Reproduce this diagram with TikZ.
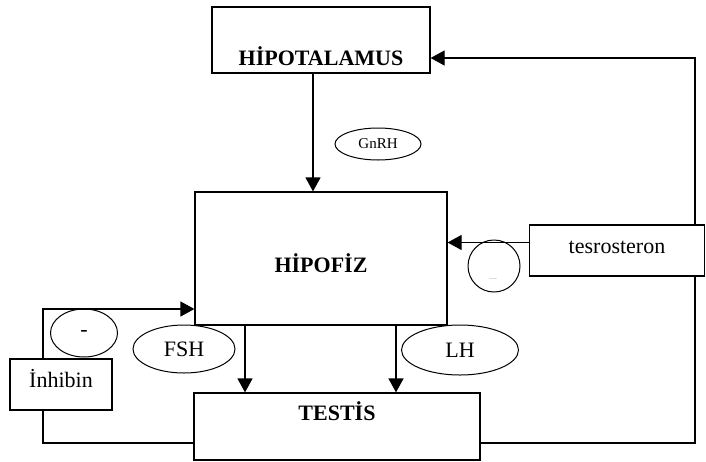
\documentclass[tikz,border=0pt]{standalone}
\usepackage{fontspec}
\setmainfont{Liberation Serif}
\usepackage{tikz}
\usetikzlibrary{shapes.geometric, arrows.meta, positioning, calc}

\begin{document}
\begin{tikzpicture}[x=1pt, y=-1pt,
  box/.style={rectangle, draw=black, line width=1.2pt, fill=white, inner sep=0pt, anchor=base, font=\fontsize{22}{26}\selectfont},
  hbox/.style={box, font=\fontsize{22}{26}\selectfont\bfseries},
  oval/.style={ellipse, draw=black, line width=1pt, fill=white, inner sep=0pt, font=\fontsize{22}{26}\selectfont},
  arr/.style={-{Triangle[length=14pt, width=15pt]}, line width=1.2pt, black},
  ln/.style={line width=1.2pt, black}
]
\useasboundingbox (0,0) rectangle (706,461);

% Main boxes
\node[hbox, minimum width=218pt, text height=58pt, text depth=8pt] (hipo) at (321,65) {HİPOTALAMUS};
\node[hbox, minimum width=252pt, text height=80pt, text depth=53pt] (hipofiz) at (321,272) {HİPOFİZ};
\node[hbox, minimum width=286pt, text height=27pt, text depth=40pt] (testis) at (337,420) {TESTİS};
\node[box, minimum width=102pt, text height=28pt, text depth=23pt] (inh) at (61,387) {İnhibin};

% Hormone labels
\node[oval, minimum width=86pt, minimum height=32pt, font=\fontsize{15}{18}\selectfont] (gnrh) at (378,144) {GnRH};
\node[oval, minimum width=102pt, minimum height=48pt] (fsh) at (184,349) {FSH};
\node[oval, minimum width=117pt, minimum height=50pt] (lh) at (460,350) {LH};
\node[oval, minimum width=67pt, minimum height=48pt] (minus) at (84,333) {-};
\node[circle, draw=black, line width=1pt, minimum size=52pt, inner sep=0pt] (neg) at (494,266) {};
\node[text=gray!35, font=\fontsize{15}{18}\selectfont, inner sep=0pt] (negdash) at (493,278) {\_};

% Feedback to hipotalamus
\coordinate (fb) at (695,443);
\coordinate (fbtop) at (695,58);
\draw[arr] (testis.east |- fb) -- (fb) -- (fbtop) -- (hipo.east |- fbtop);
\node[box, minimum width=175pt, text height=28pt, text depth=23pt] (tes) at (617,253) {tesrosteron};

\draw[arr] ([xshift=-8pt]hipo.south) -- ([xshift=-8pt]hipofiz.north);
\draw[arr] ([yshift=8pt]tes.west) -- ([yshift=8pt]tes.west -| hipofiz.east);
\draw[arr] ([xshift=-76pt]hipofiz.south) -- ([xshift=-76pt]hipofiz.south |- testis.north);
\draw[arr] ([xshift=75pt]hipofiz.south) -- ([xshift=75pt]hipofiz.south |- testis.north);
\draw[arr] ([xshift=-18pt]inh.north) |- ([yshift=-50.5pt]hipofiz.west);
\draw[ln] ([xshift=-18pt]inh.south) |- (testis.west |- fb);
\end{tikzpicture}
\end{document}
